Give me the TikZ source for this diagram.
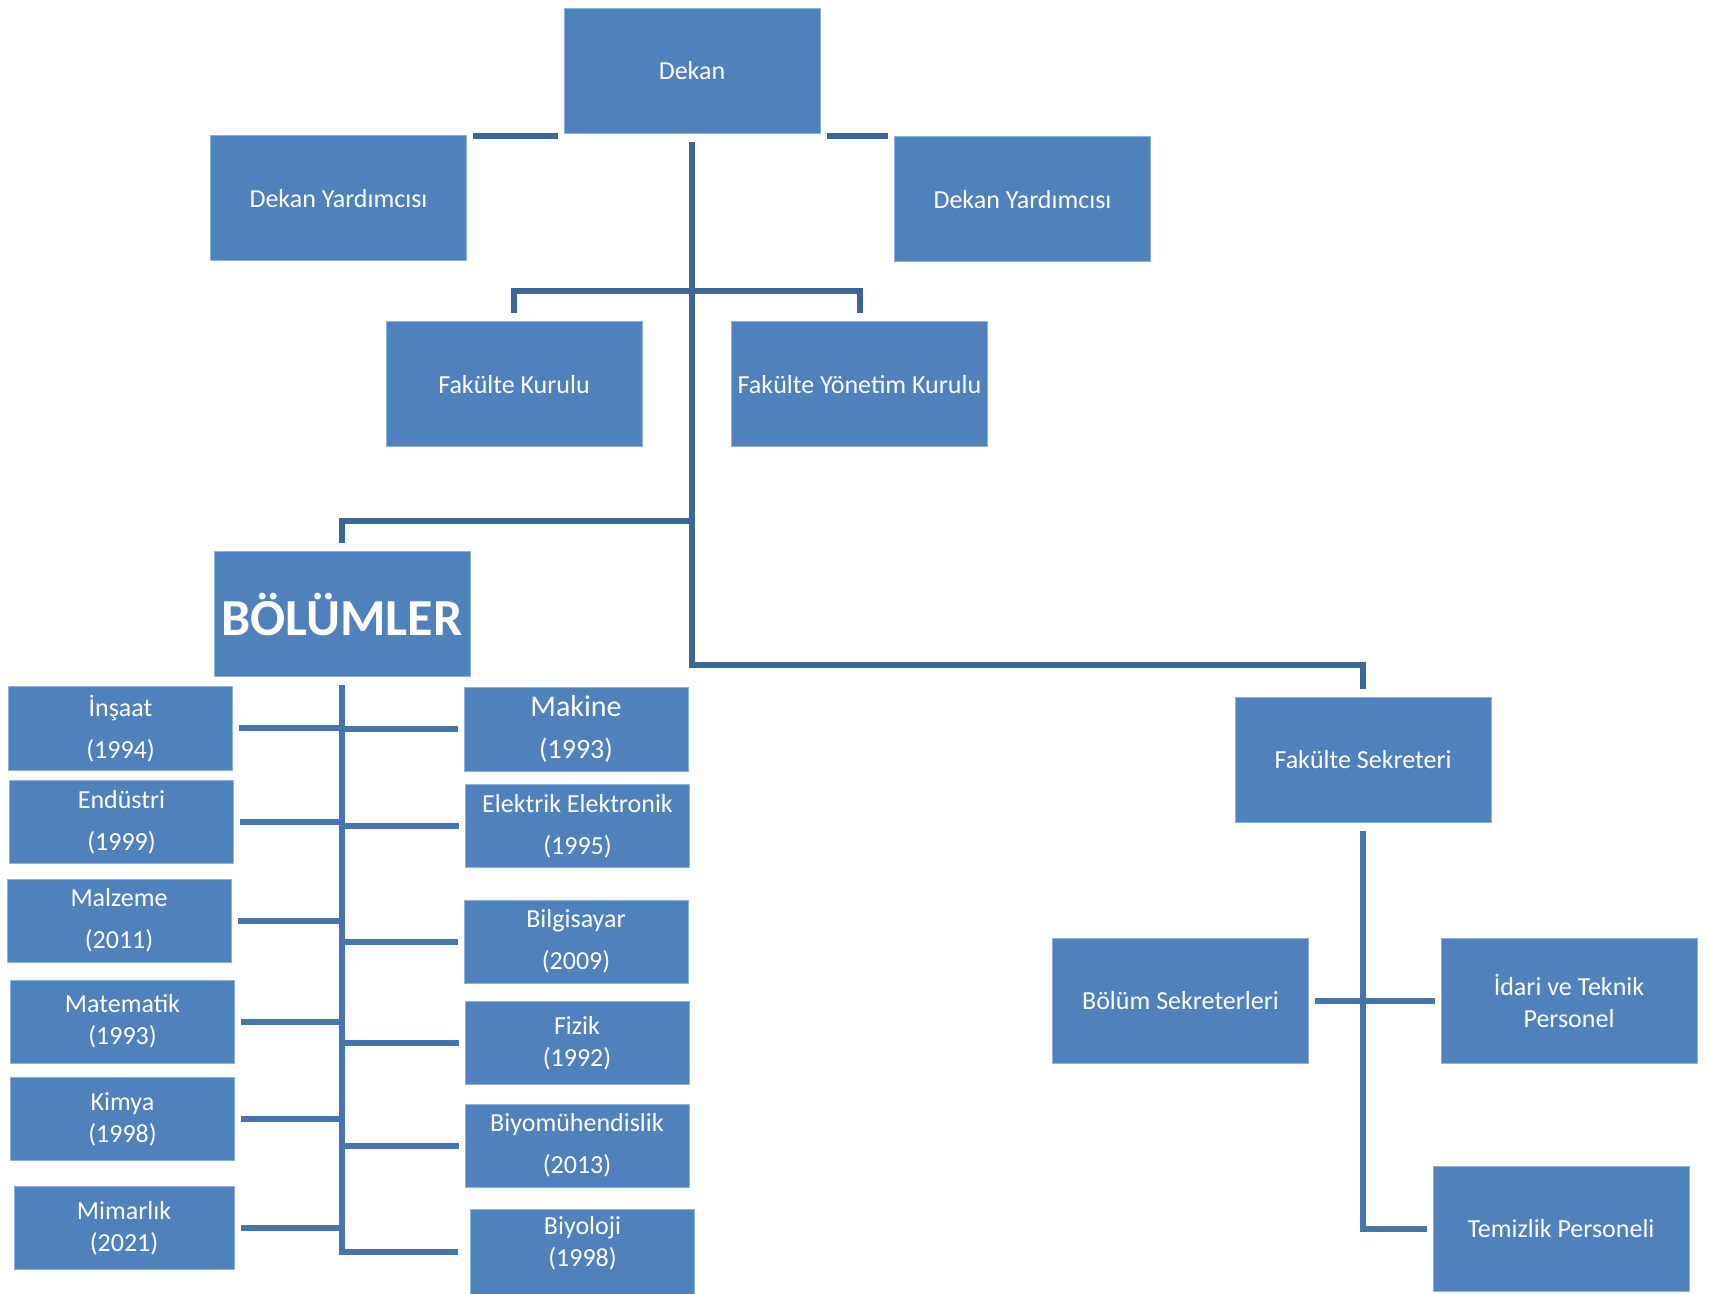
\documentclass[tikz,border=0pt]{standalone}
\usepackage{fontspec}
\setmainfont{Carlito}
\usetikzlibrary{calc}
\definecolor{boxblue}{HTML}{4F81BD}
\definecolor{boxedge}{HTML}{8DB0DC}
\definecolor{linkdark}{HTML}{3D6698}
\definecolor{linkblue}{HTML}{4674AC}
\tikzset{
  box/.style={fill=boxblue, draw=boxedge, line width=0.5pt, text=white,
    align=center, inner sep=0pt, minimum width=128pt, minimum height=62.5pt,
    font=\fontsize{13}{16}\selectfont},
  dept/.style={box, minimum width=112pt, minimum height=41.5pt},
  link/.style={linkdark, line width=3pt},
  sublink/.style={linkblue, line width=3pt}
}

\begin{document}
\begin{tikzpicture}[x=0.5pt,y=-0.5pt]
      \useasboundingbox (0,0) rectangle (1710,1294);
      % upper part
      \node[box] (dek) at (692,71) {Dekan};
      \node[box] (dyL) at (338.5,198.5) {Dekan Yardımcısı};
      \node[box] (dyR) at (1022.5,199.5) {Dekan Yardımcısı};
      \node[box] (fk) at (514,384.5) {Fakülte Kurulu};
      \node[box] (fyk) at (859.5,384.5) {Fakülte Yönetim Kurulu};
      \node[box, font=\fontsize{26}{30}\selectfont\bfseries] (bol) at (342,614.5) {BÖLÜMLER};
      \node[box] (fs) at (1363,760) {Fakülte Sekreteri};
      \node[box] (bs) at (1180.5,1001) {Bölüm Sekreterleri};
      \node[box] (itp) at (1569,1001) {İdari ve Teknik\\Personel};
      \node[box] (tp) at (1561,1229) {Temizlik Personeli};
      % departments
      \node[dept] (ins) at (120.5,728.5) {İnşaat\\[5pt](1994)};
      \node[dept] (end) at (121.5,822) {Endüstri\\[5pt](1999)};
      \node[dept] (mal) at (119,920.5) {Malzeme\\[5pt](2011)};
      \node[dept] (mat) at (122.5,1021.5) {Matematik\\(1993)};
      \node[dept] (kim) at (122.5,1119) {Kimya\\(1998)};
      \node[dept, minimum width=110pt] (mim) at (124,1228) {Mimarlık\\(2021)};
      \node[dept, font=\fontsize{15}{17}\selectfont] (mak) at (576,729.5) {Makine\\[4pt]{\fontsize{14}{16}\selectfont(1993)}};
      \node[dept] (ele) at (577.5,826) {Elektrik Elektronik\\[5pt](1995)};
      \node[dept] (bil) at (576,941.5) {Bilgisayar\\[5pt](2009)};
      \node[dept] (fiz) at (577,1043) {Fizik\\(1992)};
      \node[dept] (biym) at (577,1145.5) {Biyomühendislik\\[5pt](2013)};
      \node[dept, minimum height=42.5pt] (biyo) at (582.5,1251.5) {Biyoloji\\(1998)\\[-6pt]\mbox{}};
      % junctions
      \coordinate (jK) at (692,291);
      \coordinate (jB) at (692,521);
      \coordinate (jF) at (692,665);
      % connectors
      \draw[link] ([xshift=3pt,yshift=-1pt]dyL.north east |- dek.south) -- ([xshift=-3pt,yshift=-1pt]dek.south west);
      \draw[link] ([xshift=3pt,yshift=-1pt]dek.south east) -- ([xshift=-3pt,yshift=-1pt]dyR.north west |- dek.south);
      \draw[link] ([yshift=-4pt]dek.south) -- (jF) -| ([yshift=4pt]fs.north);
      \draw[link] ([yshift=4pt]fk.north) |- (jK) -| ([yshift=4pt]fyk.north);
      \draw[link] (jB) -| ([yshift=4pt]bol.north);
      \draw[sublink] ([yshift=-4pt]bol.south) -- (bol.south |- biyo.west) -- ([xshift=-6pt]biyo.west);
      \foreach \d in {ins,end,mal,mat,kim,mim}
        \draw[sublink] ([xshift=3pt]\d.east) -- (\d.east -| bol.south);
      \foreach \d in {mak,ele,bil,fiz,biym}
        \draw[sublink] (\d.west -| bol.south) -- ([xshift=-3pt]\d.west);
      \draw[sublink] ([yshift=-4pt]fs.south) |- ([xshift=-3pt]tp.west);
      \draw[sublink] ([xshift=3pt]bs.east) -- ([xshift=-3pt]itp.west);
\end{tikzpicture}
\end{document}
